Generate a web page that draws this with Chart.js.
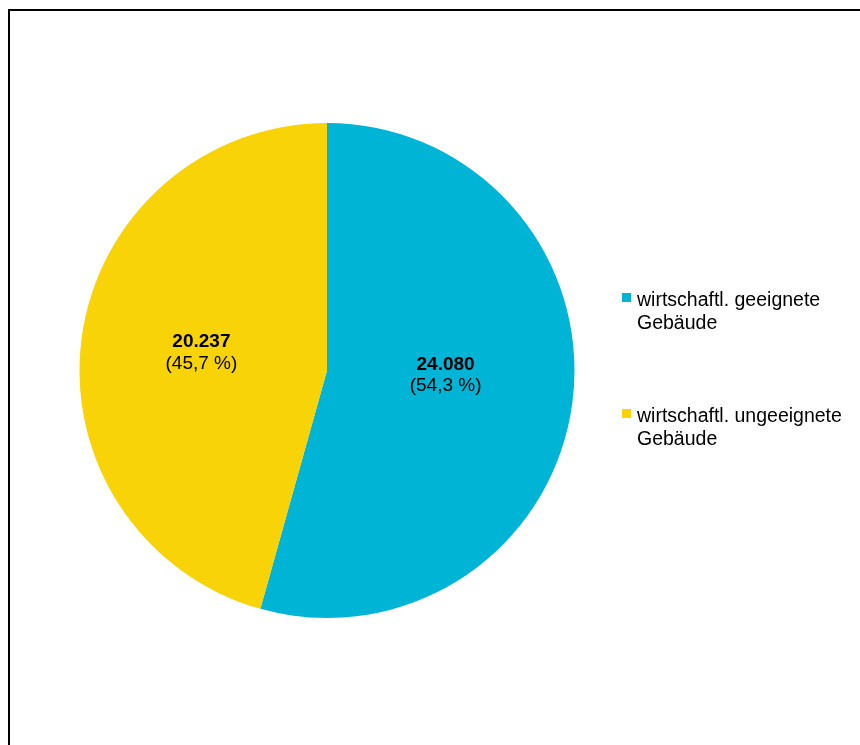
<!DOCTYPE html>
<html>
<head>
<meta charset="utf-8">
<script src="https://cdn.jsdelivr.net/npm/chart.js@4.4.1/dist/chart.umd.min.js"></script>
<style>
    html, body { margin: 0; padding: 0; background: #ffffff; overflow: hidden; }
    #frame {
        position: absolute; left: 8px; top: 9px; width: 900px; height: 800px;
        border-left: 2px solid #000; border-top: 2px solid #000;
    }
    #chart-wrap { position: absolute; left: 0; top: 0; width: 860px; height: 745px; }
</style>
</head>
<body>
<div id="frame"></div>
<div id="chart-wrap"><canvas id="chart"></canvas></div>
<script>
// data
var labels = [["wirtschaftl. geeignete", "Gebäude"], ["wirtschaftl. ungeeignete", "Gebäude"]];
var values = [24080, 20237];
var valueTexts = ["24.080", "20.237"];
var percentTexts = ["(54,3 %)", "(45,7 %)"];
var colors = ["#00B4D6", "#F7D307"];

var FONT = '"Liberation Sans", Arial, sans-serif';
// small nudge of the value labels towards where Excel put them
var labelShift = [[-4, -11], [-3, 0]];

var sliceLabels = {
    id: 'sliceLabels',
    afterDatasetsDraw: function (chart) {
        var ctx = chart.ctx;
        var meta = chart.getDatasetMeta(0);
        ctx.save();
        ctx.fillStyle = '#000';
        ctx.textAlign = 'center';
        ctx.textBaseline = 'alphabetic';
        for (var i = 0; i < meta.data.length; i++) {
            var p = meta.data[i].tooltipPosition();
            var x = p.x + labelShift[i][0];
            var y = p.y + labelShift[i][1];
            ctx.font = 'bold 19px ' + FONT;
            ctx.fillText(valueTexts[i], x, y - 6.5);
            ctx.font = '19px ' + FONT;
            ctx.fillText(percentTexts[i], x, y + 15);
        }
        ctx.restore();
    }
};

var sideLegend = {
    id: 'sideLegend',
    afterDraw: function (chart) {
        var ctx = chart.ctx;
        var area = chart.chartArea;
        var x = area.right + 47;
        var top = 305.5;
        ctx.save();
        ctx.textAlign = 'left';
        ctx.textBaseline = 'alphabetic';
        ctx.font = '19.5px ' + FONT;
        for (var i = 0; i < labels.length; i++) {
            var base = top + i * 116;
            ctx.fillStyle = colors[i];
            ctx.fillRect(x, base - 12.5, 9, 9);
            ctx.fillStyle = '#000';
            for (var l = 0; l < labels[i].length; l++) {
                ctx.fillText(labels[i][l], x + 15, base + l * 23);
            }
        }
        ctx.restore();
    }
};

var config = {
    type: 'pie',
    plugins: [sliceLabels, sideLegend],
    data: {
        labels: labels.map(function (l) { return l.join(' '); }),
        datasets: [{
            data: values,
            backgroundColor: colors,
            borderWidth: 0
        }]
    },
    options: {
        responsive: true,
        maintainAspectRatio: false,
        animation: false,
        layout: {
            padding: { left: 79, top: 123, right: 285, bottom: 127 }
        },
        plugins: {
            legend: { display: false },
            tooltip: { enabled: false }
        }
    }
};

var ctx = document.getElementById('chart').getContext('2d');
var chart = new Chart(ctx, config);
</script>
</body>
</html>
